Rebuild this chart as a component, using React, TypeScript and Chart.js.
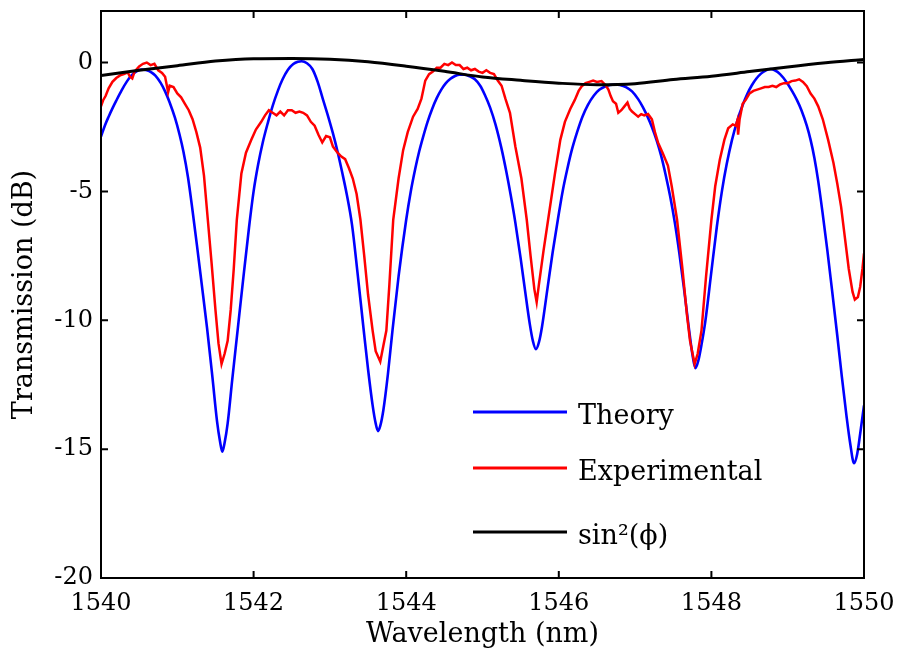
import React, { useEffect, useRef } from "react";
import { Chart, registerables } from "chart.js";

Chart.register(...registerables);

// ---- Data ----
const xTickValues = [1540, 1542, 1544, 1546, 1548, 1550];
const yTickValues = [-20, -15, -10, -5, 0];
const seriesLabels = ["Theory", "Experimental", "sin\u00B2(\u03D5)"];
const xTitle = "Wavelength (nm)";
const yTitle = "Transmission (dB)";

const theoryX = [
  1540.0, 1540.05, 1540.1, 1540.15, 1540.2, 1540.27, 1540.34, 1540.4, 1540.46, 1540.53,
  1540.6, 1540.66, 1540.71, 1540.78, 1540.84, 1540.9, 1540.97, 1541.03, 1541.08, 1541.14,
  1541.2, 1541.26, 1541.32, 1541.39, 1541.46, 1541.52, 1541.56, 1541.59, 1541.62, 1541.66,
  1541.72, 1541.79, 1541.86, 1541.94, 1542.0, 1542.06, 1542.12, 1542.19, 1542.25, 1542.32,
  1542.38, 1542.45, 1542.52, 1542.58, 1542.63, 1542.7, 1542.77, 1542.84, 1542.91, 1542.97,
  1543.04, 1543.1, 1543.16, 1543.22, 1543.29, 1543.36, 1543.44, 1543.5, 1543.56, 1543.6,
  1543.63, 1543.66, 1543.7, 1543.76, 1543.82, 1543.9, 1544.0, 1544.06, 1544.12, 1544.17,
  1544.22, 1544.28, 1544.34, 1544.4, 1544.46, 1544.52, 1544.58, 1544.64, 1544.7, 1544.76,
  1544.83, 1544.9, 1544.97, 1545.03, 1545.1, 1545.17, 1545.25, 1545.31, 1545.37, 1545.43,
  1545.5, 1545.56, 1545.62, 1545.66, 1545.7, 1545.74, 1545.78, 1545.85, 1545.92, 1545.99,
  1546.05, 1546.11, 1546.17, 1546.24, 1546.31, 1546.38, 1546.46, 1546.53, 1546.6, 1546.67,
  1546.74, 1546.8, 1546.88, 1546.96, 1547.04, 1547.1, 1547.16, 1547.22, 1547.28, 1547.34,
  1547.4, 1547.46, 1547.52, 1547.58, 1547.64, 1547.7, 1547.75, 1547.79, 1547.83, 1547.87,
  1547.92, 1548.0, 1548.07, 1548.14, 1548.2, 1548.27, 1548.34, 1548.41, 1548.47, 1548.53,
  1548.59, 1548.65, 1548.71, 1548.77, 1548.83, 1548.9, 1548.99, 1549.06, 1549.12, 1549.18,
  1549.25, 1549.3, 1549.35, 1549.4, 1549.46, 1549.52, 1549.58, 1549.65, 1549.71, 1549.77,
  1549.82, 1549.87, 1549.91, 1549.95, 1550.0,
];
const theoryY = [
  -2.87, -2.45, -2.1, -1.78, -1.48, -1.08, -0.73, -0.5, -0.35, -0.27,
  -0.3, -0.38, -0.5, -0.78, -1.12, -1.55, -2.15, -2.8, -3.45, -4.45,
  -5.75, -7.15, -8.6, -10.3, -12.2, -13.9, -14.7, -15.1, -14.75, -14.0,
  -12.3, -10.4, -8.5, -6.4, -5.0, -3.95, -3.1, -2.3, -1.68, -1.08,
  -0.65, -0.28, -0.06, 0.03, 0.05, -0.03, -0.25, -0.75, -1.44, -2.02,
  -2.75, -3.45, -4.25, -5.1, -6.3, -8.1, -10.3, -11.9, -13.3, -14.0,
  -14.3, -14.1, -13.5, -12.1, -10.4, -8.3, -6.1, -5.0, -4.1, -3.45,
  -2.9, -2.3, -1.8, -1.38, -1.05, -0.8, -0.63, -0.52, -0.47, -0.47,
  -0.53, -0.65, -0.9, -1.25, -1.75, -2.4, -3.35, -4.2, -5.15, -6.2,
  -7.6, -8.9, -10.15, -10.8, -11.12, -10.85, -10.25, -8.8, -7.35, -6.05,
  -5.0, -4.15, -3.4, -2.7, -2.1, -1.65, -1.28, -1.06, -0.94, -0.87,
  -0.85, -0.87, -0.95, -1.12, -1.42, -1.72, -2.08, -2.5, -3.0, -3.6,
  -4.35, -5.2, -6.2, -7.4, -8.75, -10.2, -11.3, -11.86, -11.55, -10.95,
  -10.05, -8.1, -6.4, -4.95, -3.95, -3.0, -2.25, -1.65, -1.22, -0.88,
  -0.62, -0.43, -0.31, -0.25, -0.3, -0.45, -0.78, -1.12, -1.45, -1.85,
  -2.45, -3.0, -3.7, -4.6, -5.9, -7.3, -8.8, -10.6, -12.2, -13.7,
  -14.8, -15.55, -15.2, -14.4, -13.3,
];

const expX = [
  1540.0, 1540.03, 1540.06, 1540.1, 1540.15, 1540.2, 1540.25, 1540.3, 1540.35, 1540.38,
  1540.41, 1540.44, 1540.5, 1540.55, 1540.6, 1540.65, 1540.7, 1540.75, 1540.8, 1540.84,
  1540.88, 1540.9, 1540.95, 1541.0, 1541.05, 1541.1, 1541.15, 1541.2, 1541.25, 1541.3,
  1541.35, 1541.4, 1541.45, 1541.5, 1541.54, 1541.58, 1541.62, 1541.66, 1541.7, 1541.74,
  1541.78, 1541.84, 1541.9, 1541.97, 1542.03, 1542.1, 1542.15, 1542.2, 1542.25, 1542.3,
  1542.35, 1542.4, 1542.45, 1542.5, 1542.55, 1542.6, 1542.65, 1542.7, 1542.75, 1542.8,
  1542.85, 1542.9, 1542.95, 1543.0, 1543.04, 1543.1, 1543.15, 1543.2, 1543.25, 1543.3,
  1543.35, 1543.4, 1543.45, 1543.5, 1543.56, 1543.6, 1543.66, 1543.7, 1543.74, 1543.78,
  1543.83, 1543.9, 1543.96, 1544.02, 1544.09, 1544.15, 1544.2, 1544.25, 1544.3, 1544.35,
  1544.4, 1544.45, 1544.5, 1544.55, 1544.6, 1544.65, 1544.7, 1544.75, 1544.8, 1544.85,
  1544.9, 1544.95, 1545.0, 1545.05, 1545.1, 1545.15, 1545.2, 1545.25, 1545.3, 1545.36,
  1545.43, 1545.51, 1545.58, 1545.63, 1545.68, 1545.71, 1545.74, 1545.8, 1545.86, 1545.95,
  1546.02, 1546.08, 1546.15, 1546.21, 1546.26, 1546.3, 1546.35, 1546.4, 1546.45, 1546.5,
  1546.56, 1546.62, 1546.65, 1546.68, 1546.71, 1546.75, 1546.78, 1546.82, 1546.86, 1546.9,
  1546.93, 1546.96, 1547.0, 1547.04, 1547.08, 1547.12, 1547.17, 1547.22, 1547.26, 1547.3,
  1547.36, 1547.43, 1547.48, 1547.55, 1547.62, 1547.68, 1547.72, 1547.78, 1547.82, 1547.87,
  1547.93, 1548.0, 1548.05, 1548.11, 1548.17, 1548.22, 1548.28, 1548.32, 1548.34, 1548.35,
  1548.37, 1548.41, 1548.45, 1548.5, 1548.55, 1548.6, 1548.65, 1548.7, 1548.75, 1548.8,
  1548.85, 1548.9, 1548.95, 1549.0, 1549.05, 1549.1, 1549.15, 1549.2, 1549.25, 1549.3,
  1549.35, 1549.4, 1549.46, 1549.53, 1549.6, 1549.65, 1549.7, 1549.75, 1549.8, 1549.85,
  1549.88, 1549.92, 1549.95, 1549.98, 1550.0,
];
const expY = [
  -1.7, -1.45, -1.3, -1.0, -0.75, -0.6, -0.5, -0.45, -0.38, -0.55,
  -0.62, -0.35, -0.15, -0.05, 0.0, -0.1, -0.05, -0.3, -0.4, -0.55,
  -1.15, -0.9, -0.95, -1.2, -1.35, -1.6, -1.85, -2.2, -2.7, -3.3,
  -4.4, -6.1, -7.8, -9.6, -10.9, -11.7, -11.3, -10.8, -9.6, -8.0,
  -6.1, -4.3, -3.5, -3.0, -2.6, -2.3, -2.05, -1.85, -1.95, -2.05,
  -1.9, -2.05, -1.85, -1.85, -1.95, -1.9, -1.95, -2.05, -2.3, -2.45,
  -2.8, -3.1, -2.85, -2.9, -3.26, -3.5, -3.65, -3.75, -4.1, -4.5,
  -5.1, -6.1, -7.5, -9.0, -10.4, -11.2, -11.6, -11.0, -10.4, -8.6,
  -6.1, -4.5, -3.4, -2.7, -2.1, -1.8, -1.4, -0.7, -0.45, -0.35,
  -0.2, -0.2, -0.05, -0.1, 0.0, -0.1, -0.1, -0.25, -0.2, -0.3,
  -0.25, -0.35, -0.4, -0.3, -0.4, -0.45, -0.7, -0.9, -1.4, -1.95,
  -3.25, -4.5, -6.1, -7.5, -8.8, -9.3, -8.6, -7.3, -6.1, -4.3,
  -3.0, -2.3, -1.8, -1.45, -1.1, -0.92, -0.8, -0.75, -0.7, -0.75,
  -0.72, -0.9, -1.05, -1.3, -1.5, -1.6, -1.95, -1.85, -1.7, -1.55,
  -1.8, -1.9, -2.0, -2.1, -2.0, -2.05, -2.0, -2.2, -2.7, -3.1,
  -3.5, -4.0, -4.8, -6.1, -8.0, -9.8, -10.8, -11.7, -11.3, -10.4,
  -8.3, -6.1, -4.8, -3.77, -3.0, -2.55, -2.4, -2.45, -2.25, -2.8,
  -2.2, -1.6, -1.45, -1.2, -1.1, -1.05, -1.0, -0.95, -0.95, -0.9,
  -0.95, -0.85, -0.8, -0.8, -0.72, -0.7, -0.65, -0.75, -0.92, -1.2,
  -1.4, -1.7, -2.2, -3.0, -3.9, -4.7, -5.6, -6.8, -8.0, -8.9,
  -9.2, -9.1, -8.7, -8.0, -7.4,
];

const sinX = [
  1540, 1540.5, 1541, 1541.5, 1542, 1542.5, 1543, 1543.5, 1544, 1544.5, 1545,
  1545.5, 1546, 1546.5, 1547, 1547.5, 1548, 1548.5, 1549, 1549.5, 1550,
];
const sinY = [
  -0.5, -0.3, -0.12, 0.06, 0.15, 0.16, 0.13, 0.03, -0.14, -0.34, -0.56,
  -0.69, -0.8, -0.86, -0.82, -0.66, -0.53, -0.35, -0.17, -0.01, 0.12,
];

const seriesColors = ["#0000ff", "#ff0000", "#000000"];

const FONT = "'DejaVu Serif', 'Liberation Serif', serif";

function toPoints(xs: number[], ys: number[]) {
  return xs.map((x, i) => ({ x, y: ys[i] }));
}

function zeroPadding(scale: any) {
  scale.paddingTop = 0;
  scale.paddingBottom = 0;
  scale.paddingLeft = 0;
  scale.paddingRight = 0;
}

const framePlugin = {
  id: "frameTicks",
  afterDatasetsDraw(chart: any) {
    const { ctx, chartArea: a, scales } = chart;
    const xs = scales.x;
    const ys = scales.y;
    const len = 7;
    ctx.save();
    ctx.strokeStyle = "#000";
    ctx.lineWidth = 2;
    ctx.beginPath();
    xTickValues.forEach((v) => {
      const px = xs.getPixelForValue(v);
      ctx.moveTo(px, a.bottom);
      ctx.lineTo(px, a.bottom - len);
      ctx.moveTo(px, a.top);
      ctx.lineTo(px, a.top + len);
    });
    yTickValues.forEach((v) => {
      const py = ys.getPixelForValue(v);
      ctx.moveTo(a.left, py);
      ctx.lineTo(a.left + len, py);
      ctx.moveTo(a.right, py);
      ctx.lineTo(a.right - len, py);
    });
    ctx.stroke();
    ctx.strokeRect(a.left, a.top, a.right - a.left, a.bottom - a.top);
    ctx.restore();
  },
};

const legendPlugin = {
  id: "insideLegend",
  afterDraw(chart: any) {
    const { ctx, chartArea: a } = chart;
    const x0 = a.left + 372;
    const x1 = a.left + 466;
    const tx = a.left + 477;
    const rowY = [a.top + 401, a.top + 457, a.top + 521];
    ctx.save();
    chart.data.datasets.forEach((ds: any, i: number) => {
      const y = rowY[i];
      ctx.strokeStyle = ds.borderColor;
      ctx.lineWidth = 3;
      ctx.beginPath();
      ctx.moveTo(x0, y);
      ctx.lineTo(x1, y);
      ctx.stroke();
      ctx.fillStyle = "#000";
      ctx.font = `27px ${FONT}`;
      ctx.textAlign = "left";
      ctx.textBaseline = "alphabetic";
      ctx.fillText(ds.label, tx, y + 12);
    });
    ctx.restore();
  },
};

export default function App() {
  const canvasRef = useRef<HTMLCanvasElement | null>(null);

  useEffect(() => {
    document.body.style.margin = "0";
    const canvas = canvasRef.current;
    if (!canvas) return;
    const chart = new Chart(canvas, {
      type: "line",
      data: {
        datasets: [
          {
            label: seriesLabels[0],
            data: toPoints(theoryX, theoryY),
            borderColor: seriesColors[0],
            borderWidth: 2.6,
            pointRadius: 0,
            cubicInterpolationMode: "monotone",
            order: 3,
          },
          {
            label: seriesLabels[1],
            data: toPoints(expX, expY),
            borderColor: seriesColors[1],
            borderWidth: 2.5,
            pointRadius: 0,
            tension: 0,
            order: 2,
          },
          {
            label: seriesLabels[2],
            data: toPoints(sinX, sinY),
            borderColor: seriesColors[2],
            borderWidth: 3,
            pointRadius: 0,
            cubicInterpolationMode: "monotone",
            order: 1,
          },
        ],
      },
      options: {
        animation: false,
        responsive: true,
        maintainAspectRatio: false,
        layout: { padding: { top: 11, right: 37, left: 0, bottom: 0 } },
        plugins: {
          legend: { display: false },
          tooltip: { enabled: false },
        },
        events: [],
        scales: {
          x: {
            type: "linear",
            min: 1540,
            max: 1550,
            grid: { display: false, drawTicks: false },
            border: { display: false },
            afterBuildTicks: (scale: any) => {
              scale.ticks = xTickValues.map((v) => ({ value: v }));
            },
            afterFit: (scale: any) => {
              scale.height = 76;
              zeroPadding(scale);
            },
            ticks: {
              color: "#000",
              font: { family: FONT, size: 24 },
              padding: 11,
              maxRotation: 0,
              autoSkip: false,
              callback: (v: any) => String(v),
            },
            title: {
              display: true,
              text: xTitle,
              color: "#000",
              font: { family: FONT, size: 27 },
              padding: { top: 0, bottom: 3 },
            },
          },
          y: {
            type: "linear",
            min: -20,
            max: 2,
            grid: { display: false, drawTicks: false },
            border: { display: false },
            afterBuildTicks: (scale: any) => {
              scale.ticks = yTickValues.map((v) => ({ value: v }));
            },
            afterFit: (scale: any) => {
              scale.width = 101;
              zeroPadding(scale);
            },
            ticks: {
              color: "#000",
              font: { family: FONT, size: 24 },
              padding: 8,
              autoSkip: false,
              callback: (v: any) => String(v),
            },
            title: {
              display: true,
              text: yTitle,
              color: "#000",
              font: { family: FONT, size: 27 },
              padding: { top: 9, bottom: 0 },
            },
          },
        },
      },
      plugins: [framePlugin, legendPlugin],
    });
    return () => chart.destroy();
  }, []);

  return (
    <div style={{ position: "relative", width: 901, height: 654, background: "#fff" }}>
      <canvas ref={canvasRef} />
    </div>
  );
}
